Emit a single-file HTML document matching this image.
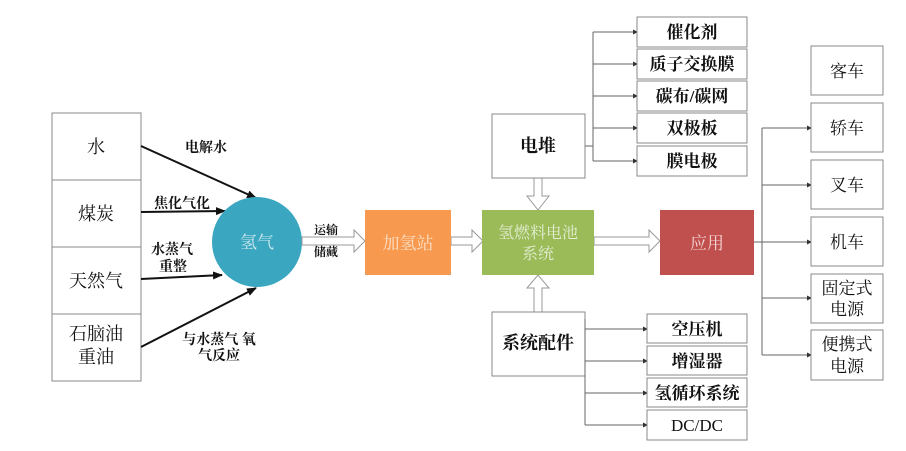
<!DOCTYPE html>
<html><head><meta charset="utf-8"><style>
html,body{margin:0;padding:0;background:#fff}
svg{display:block}
text{font-family:"Liberation Serif","Noto Serif CJK SC","Noto Sans CJK SC",serif;fill:#111}
.b{fill:#fff;stroke:#888;stroke-width:1}
.l{stroke:#666;stroke-width:1;fill:none}
.h{fill:#fff;stroke:#999;stroke-width:1}
</style></head><body>
<svg width="906" height="451" viewBox="0 0 906 451" xmlns="http://www.w3.org/2000/svg">
<defs>
<marker id="a" markerWidth="10" markerHeight="8" refX="9" refY="4" orient="auto" markerUnits="userSpaceOnUse"><path d="M0,0 L10,4 L0,8 z" fill="#111"/></marker>
<marker id="s" markerWidth="5" markerHeight="5" refX="4" refY="2.5" orient="auto" markerUnits="userSpaceOnUse"><path d="M0,0 L5,2.5 L0,5 z" fill="#333"/></marker>
</defs>
<!-- left boxes -->
<rect class="b" x="52" y="113" width="89" height="67"/>
<rect class="b" x="52" y="180" width="89" height="67"/>
<rect class="b" x="52" y="247" width="89" height="67"/>
<rect class="b" x="52" y="314" width="89" height="67"/>
<g font-size="18" text-anchor="middle">
<text x="96" y="153">水</text>
<text x="96" y="220">煤炭</text>
<text x="96" y="287">天然气</text>
<text x="96" y="340">石脑油</text>
<text x="96" y="363">重油</text>
</g>
<!-- arrows to circle -->
<g stroke="#111" stroke-width="2" marker-end="url(#a)">
<line x1="141" y1="146" x2="256" y2="198"/>
<line x1="141" y1="212" x2="225" y2="211"/>
<line x1="141" y1="279" x2="222" y2="275"/>
<line x1="141" y1="347" x2="256" y2="288"/>
</g>
<g font-size="14" font-weight="bold" text-anchor="middle">
<text x="206" y="152">电解水</text>
<text x="182" y="208">焦化气化</text>
<text x="172" y="254">水蒸气</text>
<text x="173" y="271">重整</text>
<text x="219" y="344">与水蒸气 氧</text>
<text x="219" y="360">气反应</text>
<text x="326" y="234" font-size="12">运输</text>
<text x="326" y="256" font-size="12">储藏</text>
</g>
<circle cx="257" cy="242" r="45" fill="#3ba6c0"/>
<text x="257" y="248" font-size="17" text-anchor="middle" style="fill:#cfe9f0">氢气</text>
<!-- hollow arrows -->
<path class="h" d="M302,237 H354 V230 L365,241 L354,252 V245 H302 z"/>
<path class="h" d="M451,237 H472 V230 L483,241 L472,252 V245 H451 z"/>
<path class="h" d="M594,237 H649 V230 L660,241 L649,252 V245 H594 z"/>
<path class="h" d="M534,178 H542 V196 H549 L538,210 L527,196 H534 z"/>
<path class="h" d="M534,312 H542 V288 H549 L538,275 L527,288 H534 z"/>
<!-- colored boxes -->
<rect x="365" y="210" width="86" height="65" fill="#f79a50"/>
<text x="408" y="249" font-size="17" text-anchor="middle" style="fill:#fde0c8">加氢站</text>
<rect x="482" y="210" width="112" height="65" fill="#9bbb59"/>
<text x="538" y="238" font-size="16" text-anchor="middle" style="fill:#e3eed2">氢燃料电池</text>
<text x="538" y="259" font-size="16" text-anchor="middle" style="fill:#e3eed2">系统</text>
<rect x="660" y="210" width="94" height="65" fill="#c0504d"/>
<text x="707" y="249" font-size="17" text-anchor="middle" style="fill:#f5d6d5">应用</text>
<!-- 电堆 -->
<rect class="b" x="492" y="114" width="93" height="64"/>
<text x="538" y="152" font-size="18" font-weight="bold" text-anchor="middle">电堆</text>
<path class="l" d="M585,146 H593 M593,32 V161"/>
<g class="l" marker-end="url(#s)">
<line x1="593" y1="32" x2="637" y2="32"/>
<line x1="593" y1="64" x2="637" y2="64"/>
<line x1="593" y1="96" x2="637" y2="96"/>
<line x1="593" y1="128" x2="637" y2="128"/>
<line x1="593" y1="161" x2="637" y2="161"/>
</g>
<rect class="b" x="637" y="17" width="110" height="30"/>
<rect class="b" x="637" y="49" width="110" height="30"/>
<rect class="b" x="637" y="81" width="110" height="30"/>
<rect class="b" x="637" y="113" width="110" height="30"/>
<rect class="b" x="637" y="146" width="110" height="30"/>
<g font-size="17" font-weight="bold" text-anchor="middle">
<text x="692" y="38">催化剂</text>
<text x="692" y="70">质子交换膜</text>
<text x="692" y="102">碳布/碳网</text>
<text x="692" y="134">双极板</text>
<text x="692" y="167">膜电极</text>
</g>
<!-- 系统配件 -->
<rect class="b" x="492" y="312" width="93" height="64"/>
<text x="538" y="349" font-size="18" font-weight="bold" text-anchor="middle">系统配件</text>
<path class="l" d="M585,319 V425"/>
<g class="l" marker-end="url(#s)">
<line x1="585" y1="329" x2="647" y2="329"/>
<line x1="585" y1="361" x2="647" y2="361"/>
<line x1="585" y1="393" x2="647" y2="393"/>
<line x1="585" y1="425" x2="647" y2="425"/>
</g>
<rect class="b" x="647" y="314" width="100" height="29"/>
<rect class="b" x="647" y="346" width="100" height="29"/>
<rect class="b" x="647" y="378" width="100" height="29"/>
<rect class="b" x="647" y="410" width="100" height="30"/>
<g font-size="17" font-weight="bold" text-anchor="middle">
<text x="697" y="335">空压机</text>
<text x="697" y="367">增湿器</text>
<text x="697" y="399">氢循环系统</text>
<text x="697" y="431" font-weight="normal">DC/DC</text>
</g>
<!-- right -->
<path class="l" d="M754,242 H762 M762,128 V355"/>
<g class="l" marker-end="url(#s)">
<line x1="762" y1="128" x2="811" y2="128"/>
<line x1="762" y1="185" x2="811" y2="185"/>
<line x1="762" y1="242" x2="811" y2="242"/>
<line x1="762" y1="298" x2="811" y2="298"/>
<line x1="762" y1="355" x2="811" y2="355"/>
</g>
<rect class="b" x="811" y="46" width="72" height="49"/>
<rect class="b" x="811" y="103" width="72" height="49"/>
<rect class="b" x="811" y="160" width="72" height="49"/>
<rect class="b" x="811" y="217" width="72" height="49"/>
<rect class="b" x="811" y="274" width="72" height="49"/>
<rect class="b" x="811" y="330" width="72" height="50"/>
<g font-size="17" text-anchor="middle">
<text x="847" y="77">客车</text>
<text x="847" y="134">轿车</text>
<text x="847" y="191">叉车</text>
<text x="847" y="248">机车</text>
<text x="847" y="294">固定式</text>
<text x="847" y="315">电源</text>
<text x="847" y="350">便携式</text>
<text x="847" y="372">电源</text>
</g>
</svg>
</body></html>
